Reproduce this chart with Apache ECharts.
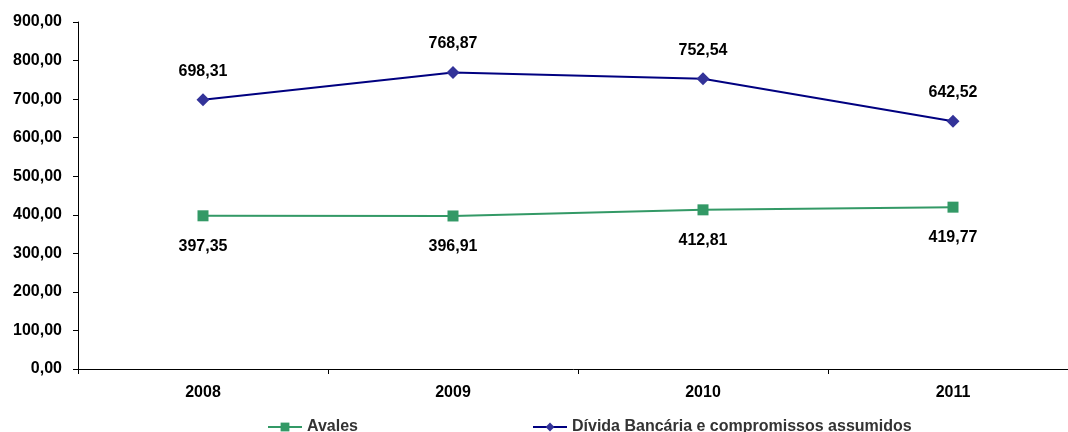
<!DOCTYPE html>
<html><head><meta charset="utf-8">
<script src="https://cdn.jsdelivr.net/npm/echarts@6/dist/echarts.min.js"></script>
<style>html,body{margin:0;padding:0;background:#fff}#c{width:1068px;height:432px}</style>
</head><body><div id="c"></div>
<script>
var categories = ['2008','2009','2010','2011'];
var avales = [397.35, 396.91, 412.81, 419.77];
var divida = [698.31, 768.87, 752.54, 642.52];
var seriesNames = ['Avales','Dívida Bancária e compromissos assumidos'];
function fmt(v){return v.toFixed(2).replace('.',',');}
var chart = echarts.init(document.getElementById('c'));
var font = 'Liberation Sans, Arial, sans-serif';
chart.setOption({
  animation:false,
  backgroundColor:'#fff',
  grid:{left:78, top:22, bottom:63, right:-10, containLabel:false, outerBoundsMode:'none'},
  legend:{
    left:262, top:414, itemGap:174, itemWidth:34, itemHeight:11,
    textStyle:{fontFamily:font, fontWeight:'bold', fontSize:16, color:'#333'},
    data:seriesNames
  },
  xAxis:{
    type:'category', data:categories, boundaryGap:true,
    axisLine:{lineStyle:{color:'#000', width:1}},
    axisTick:{show:true, alignWithLabel:false, length:5, lineStyle:{color:'#000'}},
    axisLabel:{fontFamily:font, fontWeight:'bold', fontSize:16, color:'#000', margin:16}
  },
  yAxis:{
    type:'value', min:0, max:900, interval:100,
    axisLine:{show:true, lineStyle:{color:'#000'}},
    axisTick:{show:true, length:5, lineStyle:{color:'#000'}},
    splitLine:{show:false},
    axisLabel:{fontFamily:font, fontWeight:'bold', fontSize:16, color:'#000', margin:16, formatter:function(v){return fmt(v);}}
  },
  series:[
    {name:seriesNames[0], type:'line', data:avales, symbol:'rect', symbolSize:11,
     lineStyle:{color:'#339966', width:2}, itemStyle:{color:'#339966'},
     label:{show:true, position:'bottom', distance:17, fontFamily:font, fontWeight:'bold', fontSize:16, color:'#000', formatter:function(p){return fmt(p.value);}}},
    {name:seriesNames[1], type:'line', data:divida, symbol:'diamond', symbolSize:13,
     lineStyle:{color:'#000080', width:2}, itemStyle:{color:'#333399'},
     label:{show:true, position:'top', distance:14, fontFamily:font, fontWeight:'bold', fontSize:16, color:'#000', formatter:function(p){return fmt(p.value);}}}
  ]
});
</script></body></html>
